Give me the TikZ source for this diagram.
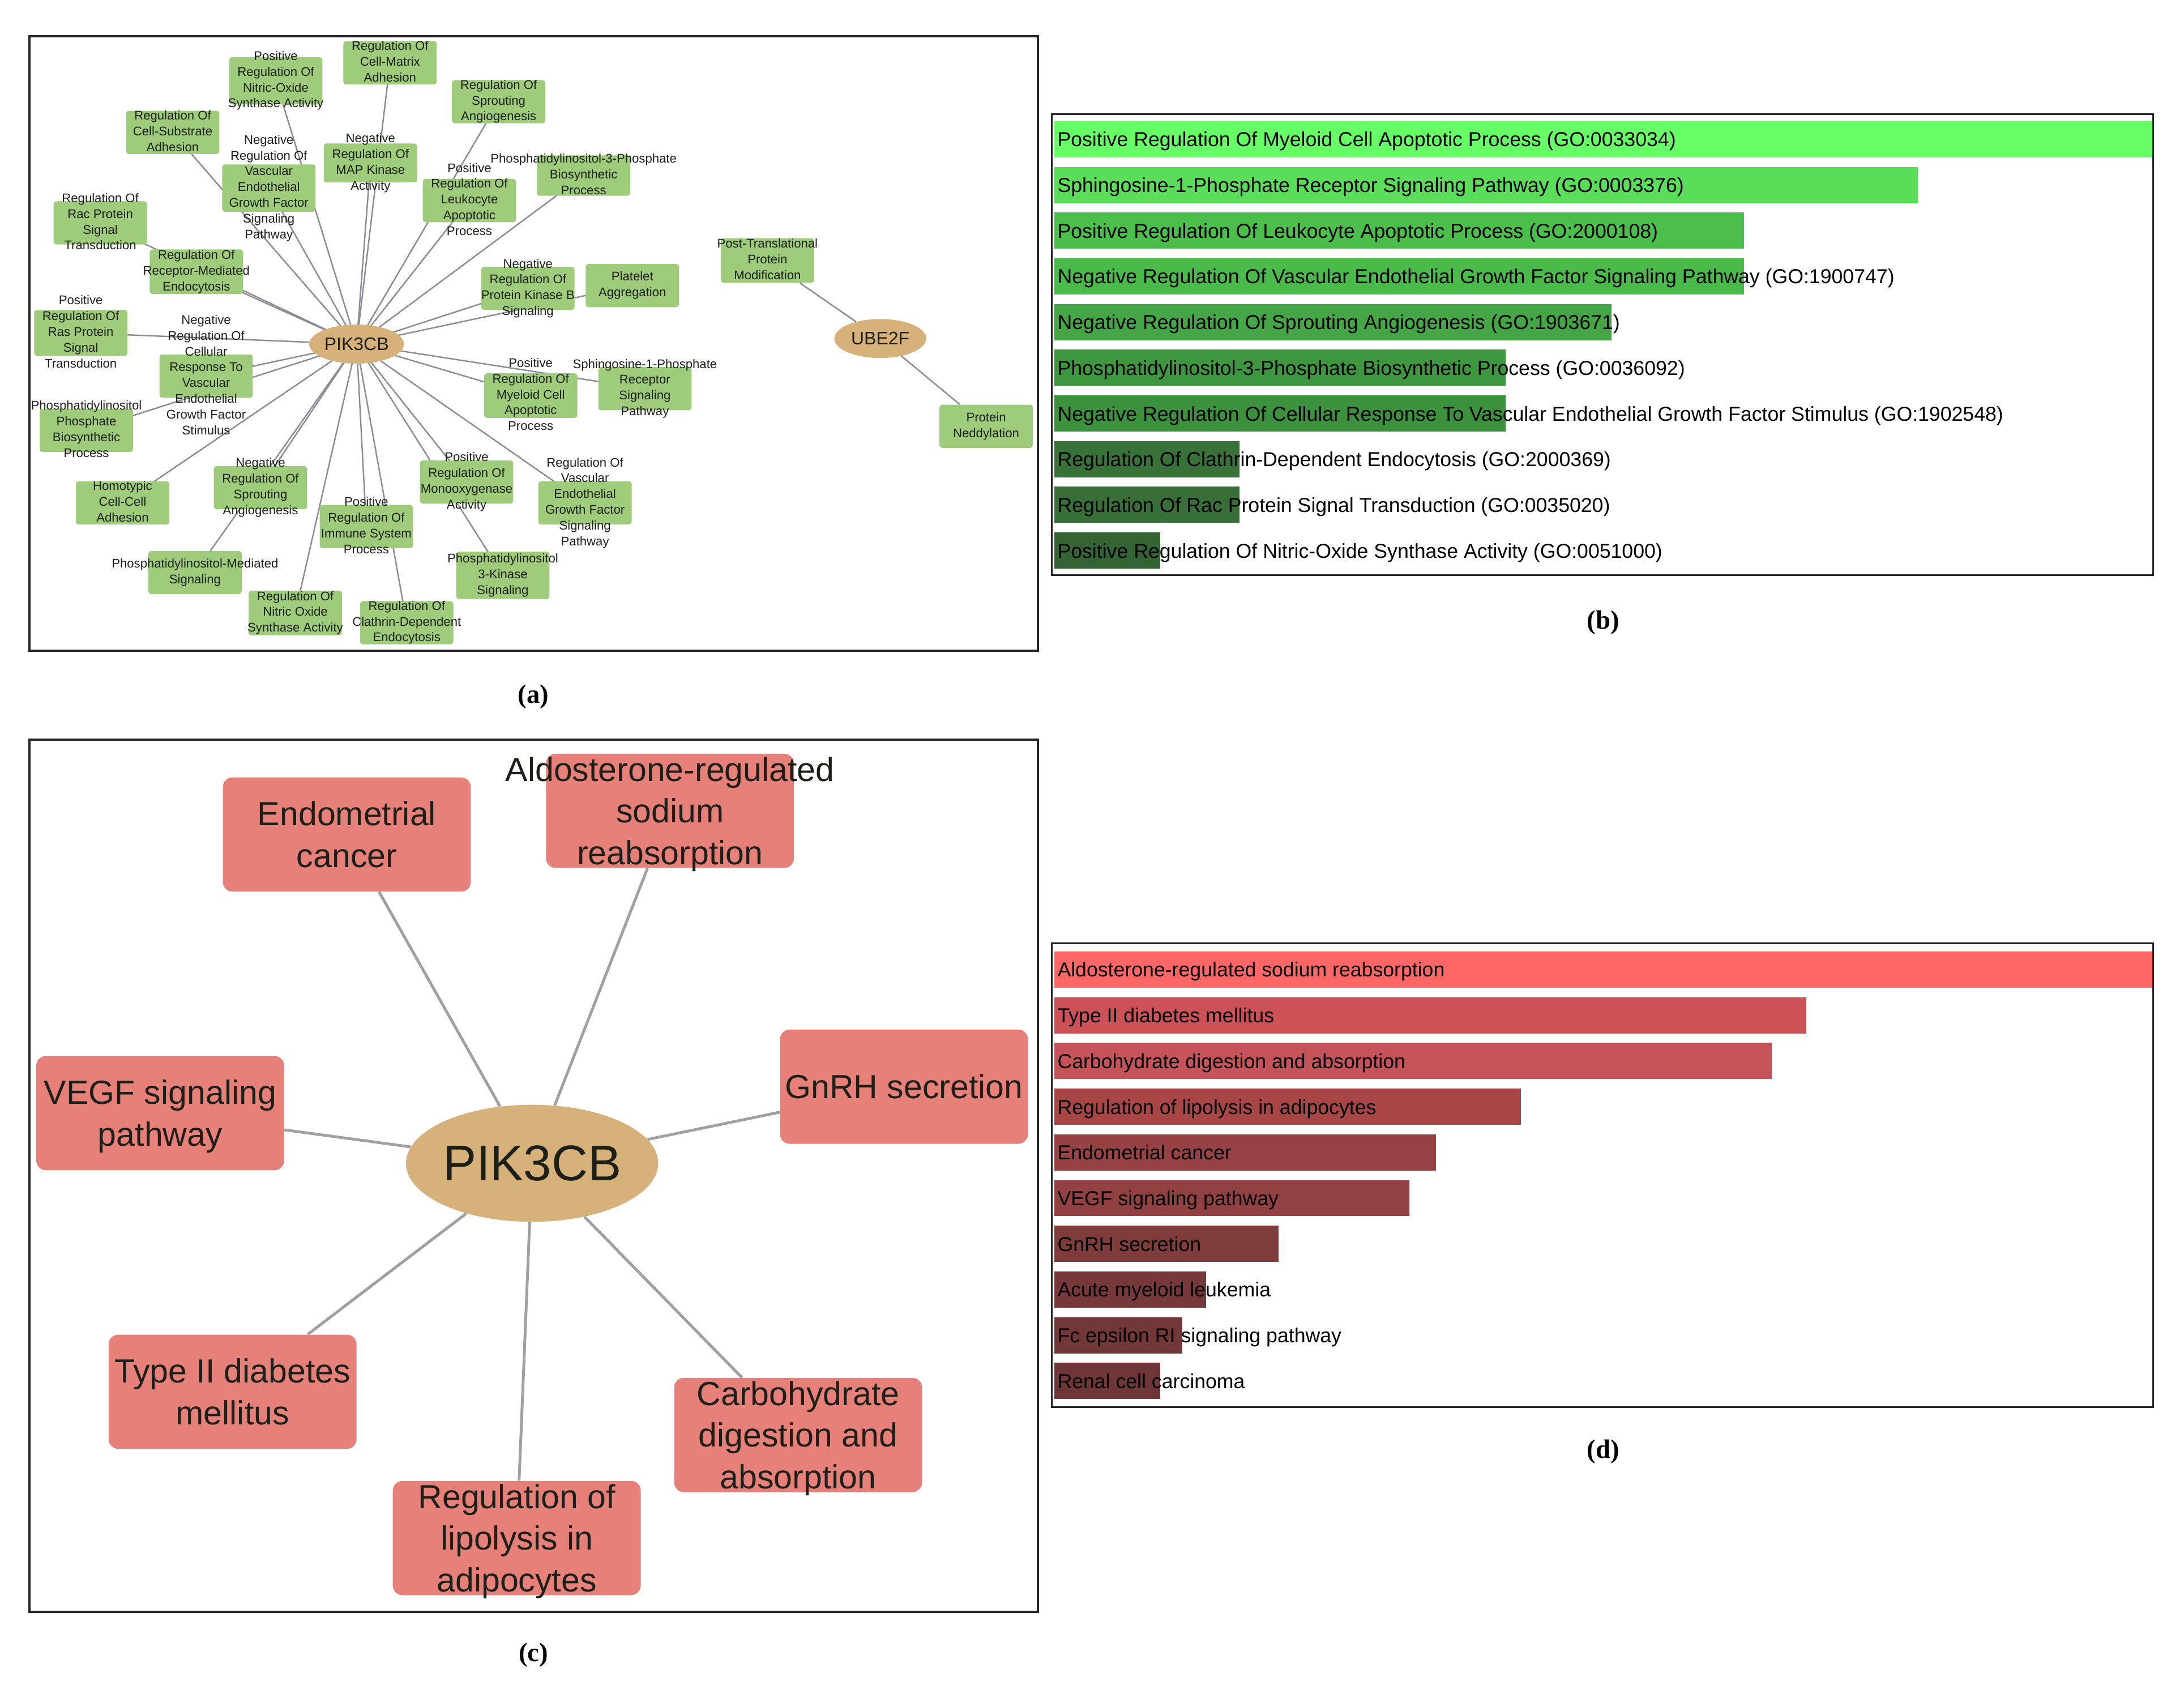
\documentclass[tikz,border=0pt]{standalone}
\usepackage{fontspec}
\newfontfamily\arial{Liberation Sans}
\newfontfamily\lserif{Liberation Serif}
\usetikzlibrary{backgrounds,shapes.geometric}
\definecolor{agreen}{RGB}{158,204,122}
\definecolor{atan}{RGB}{214,178,122}
\definecolor{asalmon}{RGB}{232,128,122}
\definecolor{aedge}{RGB}{140,140,150}
\definecolor{cedge}{RGB}{160,160,160}
\definecolor{atext}{RGB}{28,32,24}
\definecolor{g1}{RGB}{102,255,102}
\definecolor{g2}{RGB}{90,222,90}
\definecolor{g3}{RGB}{76,190,76}
\definecolor{g4}{RGB}{74,186,74}
\definecolor{g5}{RGB}{68,166,68}
\definecolor{g6}{RGB}{62,150,62}
\definecolor{g7}{RGB}{60,146,60}
\definecolor{g8}{RGB}{57,114,57}
\definecolor{g9}{RGB}{56,110,56}
\definecolor{g10}{RGB}{52,100,52}
\definecolor{r1}{RGB}{255,102,102}
\definecolor{r2}{RGB}{204,82,88}
\definecolor{r3}{RGB}{197,84,90}
\definecolor{r4}{RGB}{168,70,70}
\definecolor{r5}{RGB}{150,66,66}
\definecolor{r6}{RGB}{145,65,65}
\definecolor{r7}{RGB}{128,59,59}
\definecolor{r8}{RGB}{118,56,56}
\definecolor{r9}{RGB}{114,55,55}
\definecolor{r10}{RGB}{110,54,54}
\newcommand\ml[1]{\raisebox{-0.25em}[0pt][0pt]{\makebox[0pt]{\begin{tabular}{@{}c@{}}#1\end{tabular}}}}
\newcommand\mlc[1]{\raisebox{-0.37em}[0pt][0pt]{\makebox[0pt]{\begin{tabular}{@{}c@{}}#1\end{tabular}}}}
\begin{document}
\begin{tikzpicture}[x=1pt,y=-1pt,
  gbox/.style={rectangle, rounded corners=2, fill=agreen, minimum width=67, minimum height=31, inner sep=0, text=atext, font=\arial\fontsize{9}{11.3}\selectfont},
  gene/.style={ellipse, fill=atan, inner sep=0, text=atext, font=\arial\fontsize{13}{15}\selectfont},
  aline/.style={draw=aedge, line width=1},
  cbox/.style={rectangle, rounded corners=7, fill=asalmon, minimum width=178, minimum height=82, inner sep=0, text=atext, font=\arial\fontsize{24}{30}\selectfont},
  cline/.style={draw=cedge, line width=2},
  frame/.style={draw=black!85, line width=1.6},
  bframe/.style={draw=black!85, line width=1.2},
  bartxt/.style={anchor=west, inner sep=0, text height=14, text depth=3.5, text=black, font=\arial\fontsize{14.5}{16}\selectfont},
  plabel/.style={font=\lserif\fontsize{19}{22}\selectfont\bfseries}
]
\useasboundingbox (0,0) rectangle (1568,1213);

% ---------- panel (a) ----------
\node[gene, minimum width=68, minimum height=28] (p) at (256,247) {PIK3CB};
\node[gene, minimum width=66, minimum height=28] (u) at (632,243) {UBE2F};

\node[gbox, minimum height=34] (n1) at (198,58) {\ml{Positive\\Regulation Of\\Nitric-Oxide\\Synthase Activity}};
\node[gbox] (n2) at (280,45) {\ml{Regulation Of\\Cell-Matrix\\Adhesion}};
\node[gbox] (n3) at (358,73) {\ml{Regulation Of\\Sprouting\\Angiogenesis}};
\node[gbox] (n4) at (124,95) {\ml{Regulation Of\\Cell-Substrate\\Adhesion}};
\node[gbox, minimum height=28] (n5) at (266,117) {\ml{Negative\\Regulation Of\\MAP Kinase\\Activity}};
\node[gbox, minimum height=34] (n6) at (193,135) {\ml{Negative\\Regulation Of\\Vascular\\Endothelial\\Growth Factor\\Signaling\\Pathway}};
\node[gbox, minimum height=29] (n7) at (419,126) {\ml{Phosphatidylinositol-3-Phosphate\\Biosynthetic\\Process}};
\node[gbox] (n8) at (337,144) {\ml{Positive\\Regulation Of\\Leukocyte\\Apoptotic\\Process}};
\node[gbox] (n9) at (72,160) {\ml{Regulation Of\\Rac Protein\\Signal\\Transduction}};
\node[gbox, minimum height=32] (n10) at (141,195) {\ml{Regulation Of\\Receptor-Mediated\\Endocytosis}};
\node[gbox] (n11) at (379,207) {\ml{Negative\\Regulation Of\\Protein Kinase B\\Signaling}};
\node[gbox] (n12) at (454,205) {\ml{Platelet\\Aggregation}};
\node[gbox, minimum height=32] (n13) at (551,187) {\ml{Post-Translational\\Protein\\Modification}};
\node[gbox, minimum height=33] (n14) at (58,239) {\ml{Positive\\Regulation Of\\Ras Protein\\Signal\\Transduction}};
\node[gbox] (n15) at (148,270) {\ml{Negative\\Regulation Of\\Cellular\\Response To\\Vascular\\Endothelial\\Growth Factor\\Stimulus}};
\node[gbox, minimum height=32] (n16) at (381,284) {\ml{Positive\\Regulation Of\\Myeloid Cell\\Apoptotic\\Process}};
\node[gbox] (n17) at (463,279) {\ml{Sphingosine-1-Phosphate\\Receptor\\Signaling\\Pathway}};
\node[gbox] (n18) at (708,306) {\ml{Protein\\Neddylation}};
\node[gbox] (n19) at (62,309) {\ml{Phosphatidylinositol\\Phosphate\\Biosynthetic\\Process}};
\node[gbox] (n20) at (88,361) {\ml{Homotypic\\Cell-Cell\\Adhesion}};
\node[gbox] (n21) at (187,350) {\ml{Negative\\Regulation Of\\Sprouting\\Angiogenesis}};
\node[gbox] (n22) at (335,346) {\ml{Positive\\Regulation Of\\Monooxygenase\\Activity}};
\node[gbox] (n23) at (420,361) {\ml{Regulation Of\\Vascular\\Endothelial\\Growth Factor\\Signaling\\Pathway}};
\node[gbox] (n24) at (263,378) {\ml{Positive\\Regulation Of\\Immune System\\Process}};
\node[gbox] (n25) at (140,411) {\ml{Phosphatidylinositol-Mediated\\Signaling}};
\node[gbox, minimum height=34] (n26) at (361,413) {\ml{Phosphatidylinositol\\3-Kinase\\Signaling}};
\node[gbox, minimum height=32] (n27) at (212,440) {\ml{Regulation Of\\Nitric Oxide\\Synthase Activity}};
\node[gbox] (n28) at (292,447) {\ml{Regulation Of\\Clathrin-Dependent\\Endocytosis}};

% ---------- panel (c) ----------
\node[ellipse, fill=atan, inner sep=0, minimum width=179, minimum height=84, text=atext, font=\arial\fontsize{36}{40}\selectfont] (q) at (382,835) {PIK3CB};
\node[cbox] (c1) at (249,599) {\mlc{Endometrial\\cancer}};
\node[cbox] (c2) at (481,582) {\mlc{Aldosterone-regulated\\sodium\\reabsorption}};
\node[cbox] (c3) at (649,780) {\mlc{GnRH secretion}};
\node[cbox] (c4) at (115,799) {\mlc{VEGF signaling\\pathway}};
\node[cbox] (c5) at (167,999) {\mlc{Type II diabetes\\mellitus}};
\node[cbox] (c6) at (371,1104) {\mlc{Regulation of\\lipolysis in\\adipocytes}};
\node[cbox] (c7) at (573,1030) {\mlc{Carbohydrate\\digestion and\\absorption}};

% ---------- edges ----------
\begin{scope}[on background layer]
\fill[white] (0,0) rectangle (1568,1213);
\foreach \n in {n1,n2,n3,n4,n5,n6,n7,n8,n9,n10,n11,n12,n14,n15,n16,n17,n19,n20,n21,n22,n23,n24,n25,n26,n27,n28}
  \draw[aline] (p.center) -- (\n.center);
\draw[aline] (u) -- (n13);
\draw[aline] (u) -- (n18);
\foreach \n in {c1,c2,c3,c4,c5,c6,c7}
  \draw[cline] (q) -- (\n);
\end{scope}

% frames
\draw[frame] (21,26) rectangle (745,467);
\draw[frame] (21,531) rectangle (745,1157);

% ---------- panel (b) ----------
\foreach \i/\xr/\c/\t in {
 1/1546/g1/{Positive Regulation Of Myeloid Cell Apoptotic Process (GO:0033034)},
 2/1377/g2/{Sphingosine-1-Phosphate Receptor Signaling Pathway (GO:0003376)},
 3/1252/g3/{Positive Regulation Of Leukocyte Apoptotic Process (GO:2000108)},
 4/1252/g4/{Negative Regulation Of Vascular Endothelial Growth Factor Signaling Pathway (GO:1900747)},
 5/1157/g5/{Negative Regulation Of Sprouting Angiogenesis (GO:1903671)},
 6/1081/g6/{Phosphatidylinositol-3-Phosphate Biosynthetic Process (GO:0036092)},
 7/1081/g7/{Negative Regulation Of Cellular Response To Vascular Endothelial Growth Factor Stimulus (GO:1902548)},
 8/890/g8/{Regulation Of Clathrin-Dependent Endocytosis (GO:2000369)},
 9/890/g9/{Regulation Of Rac Protein Signal Transduction (GO:0035020)},
 10/833/g10/{Positive Regulation Of Nitric-Oxide Synthase Activity (GO:0051000)}} {
  \pgfmathsetmacro\yc{100+32.8*(\i-1)}
  \fill[\c] (757,\yc-13) rectangle (\xr,\yc+13);
  \node[bartxt] (b\i) at (759,\yc) {\t};
}
\draw[bframe] (755,82) rectangle (1546,413);

% ---------- panel (d) ----------
\foreach \i/\xr/\c/\t in {
 1/1546/r1/{Aldosterone-regulated sodium reabsorption},
 2/1297/r2/{Type II diabetes mellitus},
 3/1272/r3/{Carbohydrate digestion and absorption},
 4/1092/r4/{Regulation of lipolysis in adipocytes},
 5/1031/r5/{Endometrial cancer},
 6/1012/r6/{VEGF signaling pathway},
 7/918/r7/{GnRH secretion},
 8/866/r8/{Acute myeloid leukemia},
 9/849/r9/{Fc epsilon RI signaling pathway},
 10/833/r10/{Renal cell carcinoma}} {
  \pgfmathsetmacro\yc{696+32.8*(\i-1)}
  \fill[\c] (757,\yc-13) rectangle (\xr,\yc+13);
  \node[bartxt] (d\i) at (759,\yc) {\t};
}
\draw[bframe] (755,677) rectangle (1546,1010);

% ---------- labels ----------
\node[plabel] (la) at (383,500) {(a)};
\node[plabel] (lb) at (1151,447) {(b)};
\node[plabel] (lc) at (383,1188) {(c)};
\node[plabel] (ld) at (1151,1042) {(d)};
\end{tikzpicture}
\end{document}
